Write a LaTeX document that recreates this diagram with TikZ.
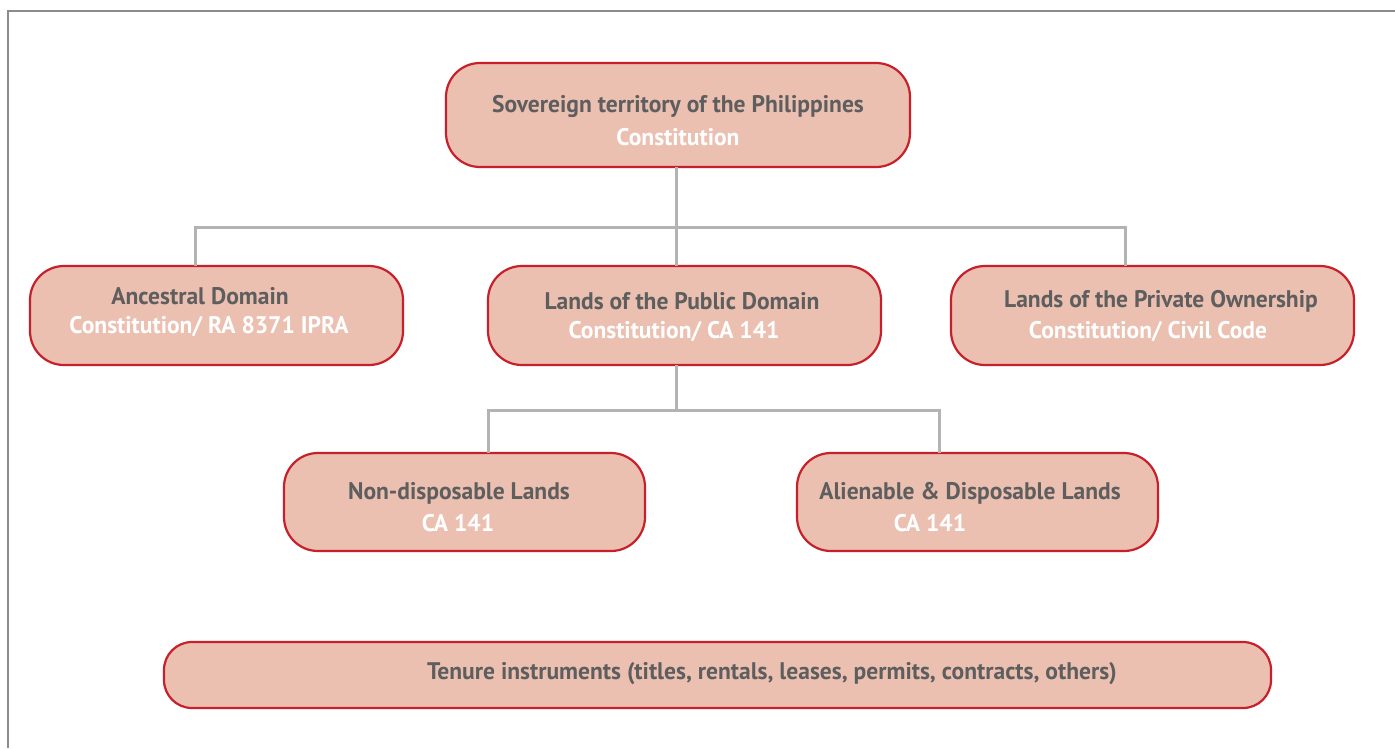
\documentclass[tikz,border=0pt]{standalone}
\usepackage{fontspec}
\setmainfont{PT Sans}[FakeStretch=0.98]
\definecolor{boxfill}{HTML}{EBC0B1}
\definecolor{boxline}{HTML}{C8202A}
\definecolor{darktext}{HTML}{5E5E5E}
\definecolor{linkgray}{HTML}{B3B3B3}
\definecolor{framegray}{HTML}{8C8C8C}
\begin{document}
\begin{tikzpicture}[x=1pt,y=-1pt,
  box/.style={draw=boxline,fill=boxfill,line width=2.2pt,rounded corners=34pt},
  tenurebox/.style={draw=boxline,fill=boxfill,line width=2.2pt,rounded corners=28pt},
  dtxt/.style={text=darktext,font=\fontsize{24}{28}\selectfont\bfseries,inner sep=0pt},
  wtxt/.style={text=white,font=\fontsize{24}{28}\selectfont\bfseries,inner sep=0pt},
  link/.style={draw=linkgray,line width=3pt}]
\useasboundingbox (0,0) rectangle (1395,748);
\draw[framegray,line width=2pt] (1395,11) -- (8,11) -- (8,748);
% boxes
\path[box] (446,63) rectangle (910,167);
\path[box] (30,266) rectangle (403,365);
\path[box] (488,266) rectangle (881,365);
\path[box] (951,266) rectangle (1354,365);
\path[box] (284,453) rectangle (645,551);
\path[box] (797,453) rectangle (1158,551);
\path[tenurebox] (164,642) rectangle (1271,708);
% named anchors
\coordinate (sov) at (676,167);
\coordinate (hub1) at (676,227);
\coordinate (hub1L) at (195,227);
\coordinate (hub1R) at (1125,227);
\coordinate (anc) at (195,266);
\coordinate (pubT) at (676,266);
\coordinate (pubB) at (676,365);
\coordinate (priv) at (1125,266);
\coordinate (hub2) at (676,410);
\coordinate (hub2L) at (488,410);
\coordinate (hub2R) at (939,410);
\coordinate (nond) at (488,453);
\coordinate (alien) at (939,453);
% connectors
\draw[link] (sov) -- (hub1);
\draw[link] (anc) -- (hub1L) -- (hub1R) -- (priv);
\draw[link] (hub1) -- (pubT);
\draw[link] (pubB) -- (hub2);
\draw[link] (nond) -- (hub2L) -- (hub2R) -- (alien);
% texts
\node[dtxt] (t1) at (678,106) {Sovereign territory of the Philippines};
\node[wtxt] (t1b) at (678,137) {Constitution};
\node[dtxt] (t2) at (200,296) {Ancestral Domain};
\node[wtxt] (t2b) at (209,327) {Constitution/ RA 8371 IPRA};
\node[dtxt] (t3) at (682,301) {Lands of the Public Domain};
\node[wtxt] (t3b) at (674,332) {Constitution/ CA 141};
\node[dtxt] (t4) at (1161,301) {Lands of the Private Ownership};
\node[wtxt] (t4b) at (1148,332) {Constitution/ Civil Code};
\node[dtxt] (t5) at (459,493) {Non-disposable Lands};
\node[wtxt] (t5b) at (458,523) {CA 141};
\node[dtxt] (t6) at (970,493) {Alienable \& Disposable Lands};
\node[wtxt] (t6b) at (930,523) {CA 141};
\node[dtxt] (t7) at (772,674) {Tenure instruments (titles, rentals, leases, permits, contracts, others)};
\end{tikzpicture}
\end{document}
